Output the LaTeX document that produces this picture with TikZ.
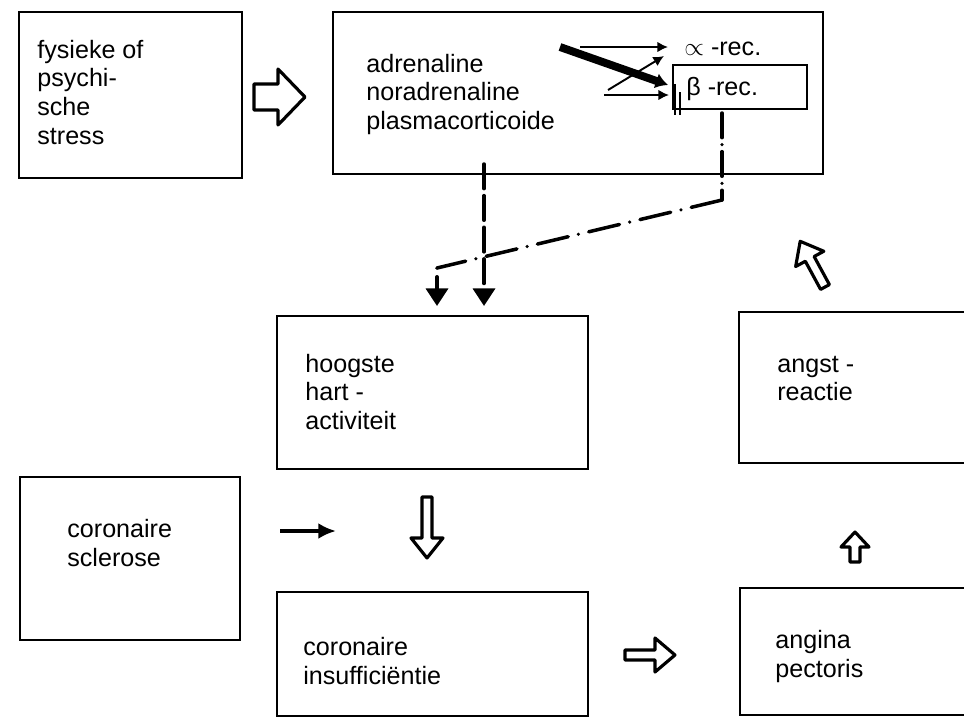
\documentclass[tikz,border=0pt]{standalone}
\usepackage{fontspec}
\setmainfont{Liberation Sans}
\usetikzlibrary{arrows.meta,fit}
\begin{document}
\begin{tikzpicture}[x=0.02cm,y=-0.02cm,
  box/.style={draw,line width=1.4pt,inner sep=0pt},
  txt/.style={font=\fontsize{14.3}{16.5}\selectfont,inner sep=0pt,anchor=base west},
  hollow/.style={draw,line width=1.8pt,line join=round,fill=white},
  pics/harrow/.style n args={4}{code={
    \draw[hollow] (0,-#2) -- ({#1-#4},-#2) -- ({#1-#4},-#3) -- (#1,0)
      -- ({#1-#4},#3) -- ({#1-#4},#2) -- (0,#2) -- cycle;}},
  dashconn/.style={line width=2pt,line cap=round,dash pattern=on 14pt off 4pt,
    -{Triangle[length=10pt,width=12.5pt]},shorten >=5pt},
  dotconn/.style={line width=2pt,line cap=round,dash pattern=on 18pt off 6pt on 0pt off 6pt},
  thinarr/.style={line width=1.1pt,-{Latex[length=6pt,width=6pt]}},
  thickarr/.style={line width=4.5pt,-{Latex[length=7pt,width=9pt]}},
  blackarr/.style={line width=2pt,-{Latex[length=10pt,width=9pt]}}
]
\useasboundingbox (0,0) rectangle (964,718);
\clip (0,0) rectangle (964,718);
\fill[white] (0,0) rectangle (964,718);

% boxes
\node[box,fit={(19,12) (242,178)}] (b1) {};
\node[box,fit={(333,12) (823,174)}] (b2) {};
\node[box,fit={(673,65) (807,109)}] (b3) {};
\node[box,fit={(277,316) (588,469)}] (b4) {};
\node[box,fit={(739,312) (990,463)}] (b5) {};
\node[box,fit={(20,477) (240,640)}] (b6) {};
\node[box,fit={(277,592) (588,716)}] (b7) {};
\node[box,fit={(740,588) (990,715)}] (b8) {};

% texts
\node[txt] (t1) at (37,58) {\begin{tabular}[t]{@{}l@{}}fysieke of\\psychi-\\sche\\stress\end{tabular}};
\node[txt] (t2) at (366,72) {\begin{tabular}[t]{@{}l@{}}adrenaline\\noradrenaline\\plasmacorticoide\end{tabular}};
\node[txt] (ta) at (684,55) {$\propto$ -rec.};
\node[txt] (tb) at (686,95) {β -rec.};
\node[txt] (t4) at (305,372) {\begin{tabular}[t]{@{}l@{}}hoogste\\hart -\\activiteit\end{tabular}};
\node[txt] (t5) at (777,372) {\begin{tabular}[t]{@{}l@{}}angst -\\reactie\end{tabular}};
\node[txt] (t6) at (67,537) {\begin{tabular}[t]{@{}l@{}}coronaire\\sclerose\end{tabular}};
\node[txt] (t7) at (303,655) {\begin{tabular}[t]{@{}l@{}}coronaire\\insuffici\"entie\end{tabular}};
\node[txt] (t8) at (775,648) {\begin{tabular}[t]{@{}l@{}}angina\\pectoris\end{tabular}};

% hollow arrows
\pic at (254,97) {harrow={51}{13}{28}{27}};
\pic[rotate=-90] at (427,497) {harrow={61}{5}{16}{20}};
\pic at (625,655) {harrow={50}{5}{17}{20}};
\pic[rotate=90] at (855,562) {harrow={30}{5}{14}{15}};
\pic[rotate=118.5] at (825,287) {harrow={52}{5}{16}{20}};

% black arrow sclerose
\coordinate (s1) at (280,531);
\coordinate (s2) at (336,531);
\draw[blackarr] (s1) -- (s2);

% receptor arrows
\coordinate (r1) at (580,47);
\coordinate (r2) at (560,47);
\coordinate (r3) at (608,90);
\coordinate (r4) at (604,95);
\coordinate (ra) at (668,47);
\coordinate (ra2) at (664,56);
\coordinate (rb) at (668,85);
\coordinate (rb2) at (669,95);
\draw[thinarr] (r1) -- (ra);
\draw[thinarr] (r3) -- (ra2);
\draw[thinarr] (r4) -- (rb2);
\draw[thickarr] (r2) -- (rb);
\draw[line width=1.2pt] (675,84) -- (675,115);
\draw[line width=1.2pt] (680,92) -- (680,115);

% dashed connectors
\coordinate (c1) at (484,164);
\draw[dashconn] (c1) -- (c1 |- b4.north);
\coordinate (c2) at (722,113);
\coordinate (c3) at (722,200);
\coordinate (c4) at (437,268);
\draw[line width=2pt,line cap=round,dash pattern=on 14pt off 4pt on 0pt off 4pt] (c2) -- (c3);
\draw[dotconn] (c3) -- (c4);
\draw[line width=2pt,line cap=round,dash pattern=on 0pt off 5pt on 7pt off 4pt,
  -{Triangle[length=10pt,width=12.5pt]},shorten >=5pt] (c4) -- (c4 |- b4.north);
\end{tikzpicture}
\end{document}
